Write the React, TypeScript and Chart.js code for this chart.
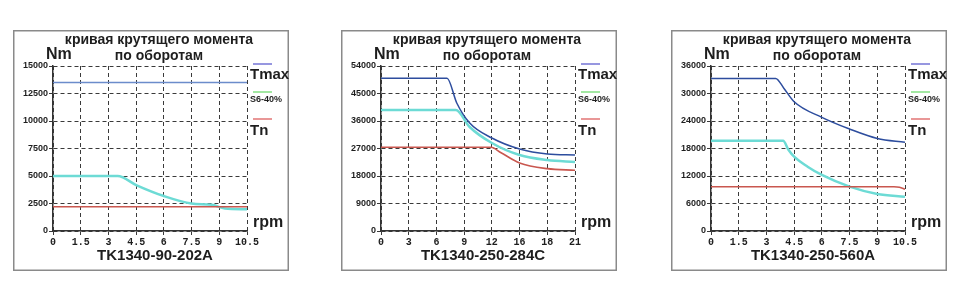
import React, { useEffect, useRef } from "react";
import { Chart, registerables } from "chart.js";

Chart.register(...registerables);

// ---------- shared text ----------
const TITLE_LINE_1 = "кривая крутящего момента";
const TITLE_LINE_2 = "по оборотам";
const Y_UNIT = "Nm";
const X_UNIT = "rpm";
const SERIES_NAMES = ["Tmax", "S6-40%", "Tn"];

// ---------- panel 1 : TK1340-90-202A ----------
const p1Model = "TK1340-90-202A";
const p1XTicks = [0, 1.5, 3, 4.5, 6, 7.5, 9, 10.5];
const p1XLabels = ["0", "1.5", "3", "4.5", "6", "7.5", "9", "10.5"];
const p1YTicks = [0, 2500, 5000, 7500, 10000, 12500, 15000];
const p1TmaxRpm = [0, 10.5];
const p1TmaxNm = [13500, 13500];
const p1S6Rpm = [0, 3.5, 4.5, 6, 7.5, 8.6, 9.3, 10.5];
const p1S6Nm = [5000, 5000, 4180, 3180, 2500, 2380, 2050, 1980];
const p1TnRpm = [0, 10.5];
const p1TnNm = [2200, 2200];

// ---------- panel 2 : TK1340-250-284C ----------
const p2Model = "TK1340-250-284C";
const p2XTicks = [0, 3, 6, 9, 12, 15, 18, 21];
const p2XLabels = ["0", "3", "6", "9", "12", "16", "18", "21"];
const p2YTicks = [0, 9000, 18000, 27000, 36000, 45000, 54000];
const p2TmaxRpm = [0, 7.15, 8.2, 9.6, 12, 15, 18, 21];
const p2TmaxNm = [50000, 50000, 41900, 35350, 30440, 26840, 25200, 24870];
const p2S6Rpm = [0, 8.1, 9.6, 12, 15, 18, 21];
const p2S6Nm = [39600, 39600, 34040, 28800, 24870, 23240, 22580];
const p2TnRpm = [0, 11.9, 13, 15, 18, 21];
const p2TnNm = [27400, 27400, 25600, 22250, 20400, 19900];

// ---------- panel 3 : TK1340-250-560A ----------
const p3Model = "TK1340-250-560A";
const p3XTicks = [0, 1.5, 3, 4.5, 6, 7.5, 9, 10.5];
const p3XLabels = ["0", "1.5", "3", "4.5", "6", "7.5", "9", "10.5"];
const p3YTicks = [0, 6000, 12000, 18000, 24000, 30000, 36000];
const p3TmaxRpm = [0, 3.5, 3.95, 4.5, 6, 7.5, 9, 10.5];
const p3TmaxNm = [33300, 33300, 31100, 28200, 24800, 22250, 20200, 19350];
const p3S6Rpm = [0, 3.9, 4.2, 4.5, 5.23, 6, 7.5, 9, 10.5];
const p3S6Nm = [19700, 19700, 17670, 16210, 14030, 12220, 9670, 8070, 7490];
const p3TnRpm = [0, 9.9, 10.2, 10.5];
const p3TnNm = [9670, 9670, 9550, 9090];

// ---------- styles ----------
const PANEL_W = 276;
const PANEL_H = 241;
const PLOT_LEFT = 40;
const PLOT_TOP = 36;
const PLOT_RIGHT = 234;
const PLOT_BOTTOM = 201;
const TEXT_COLOR = "#1e1e1e";
const GRID_COLOR = "#3a3a3a";
const S6_COLOR = "#6ddbd5";
const TN_COLOR = "#c9574f";
const LEGEND_COLORS = ["#7474d6", "#84e084", "#e27474"];
const FONT = "'Liberation Sans', Arial, sans-serif";

type Panel = {
  left: number;
  model: string;
  xTicks: number[];
  xLabels: string[];
  yTicks: number[];
  tmaxColor: string;
  series: { rpm: number[]; nm: number[] }[];
};

const panels: Panel[] = [
  {
    left: 13,
    model: p1Model,
    xTicks: p1XTicks,
    xLabels: p1XLabels,
    yTicks: p1YTicks,
    tmaxColor: "#6b8ccb",
    series: [
      { rpm: p1TmaxRpm, nm: p1TmaxNm },
      { rpm: p1S6Rpm, nm: p1S6Nm },
      { rpm: p1TnRpm, nm: p1TnNm },
    ],
  },
  {
    left: 341,
    model: p2Model,
    xTicks: p2XTicks,
    xLabels: p2XLabels,
    yTicks: p2YTicks,
    tmaxColor: "#2d4d9e",
    series: [
      { rpm: p2TmaxRpm, nm: p2TmaxNm },
      { rpm: p2S6Rpm, nm: p2S6Nm },
      { rpm: p2TnRpm, nm: p2TnNm },
    ],
  },
  {
    left: 671,
    model: p3Model,
    xTicks: p3XTicks,
    xLabels: p3XLabels,
    yTicks: p3YTicks,
    tmaxColor: "#2d4d9e",
    series: [
      { rpm: p3TmaxRpm, nm: p3TmaxNm },
      { rpm: p3S6Rpm, nm: p3S6Nm },
      { rpm: p3TnRpm, nm: p3TnNm },
    ],
  },
];

function makeTextPlugin(p: Panel) {
  return {
    id: "panelText",
    afterDraw(chart: any) {
      const ctx = chart.ctx as CanvasRenderingContext2D;
      const w = chart.width;
      const h = chart.height;
      ctx.save();
      // frame
      ctx.strokeStyle = "#8a8a8a";
      ctx.lineWidth = 1.5;
      ctx.strokeRect(0.75, 0.75, w - 1.5, h - 1.5);

      ctx.fillStyle = TEXT_COLOR;
      ctx.textBaseline = "middle";
      // title
      ctx.textAlign = "center";
      ctx.font = `bold 14px ${FONT}`;
      ctx.fillText(TITLE_LINE_1, 146, 10);
      ctx.fillText(TITLE_LINE_2, 146, 26);
      // unit labels
      ctx.textAlign = "left";
      ctx.font = `bold 16px ${FONT}`;
      ctx.fillText(Y_UNIT, 33, 25);
      ctx.font = `bold 16px ${FONT}`;
      ctx.fillText(X_UNIT, 240, 193);

      // legend
      const markY = [34, 62, 89];
      const textY = [45, 70, 101];
      SERIES_NAMES.forEach((name, i) => {
        ctx.strokeStyle = LEGEND_COLORS[i];
        ctx.lineWidth = 1.5;
        ctx.beginPath();
        ctx.moveTo(240, markY[i]);
        ctx.lineTo(259, markY[i]);
        ctx.stroke();
        ctx.fillStyle = TEXT_COLOR;
        ctx.font = i === 1 ? `bold 9px ${FONT}` : `bold 15px ${FONT}`;
        ctx.fillText(name, 237, textY[i]);
      });

      // model
      ctx.textAlign = "center";
      ctx.font = `bold 15px ${FONT}`;
      ctx.fillText(p.model, 142, 226);
      ctx.restore();
    },
  };
}

function PanelChart({ p }: { p: Panel }) {
  const ref = useRef<HTMLCanvasElement>(null);
  useEffect(() => {
    if (!ref.current) return;
    const colors = [p.tmaxColor, S6_COLOR, TN_COLOR];
    const widths = [1.5, 2.5, 1.6];
    const xMax = p.xTicks[p.xTicks.length - 1];
    const yMax = p.yTicks[p.yTicks.length - 1];
    const chart = new Chart(ref.current, {
      type: "line",
      data: {
        datasets: p.series.map((s, i) => ({
          label: SERIES_NAMES[i],
          data: s.rpm.map((x, k) => ({ x, y: s.nm[k] })),
          borderColor: colors[i],
          borderWidth: widths[i],
          pointRadius: 0,
          fill: false,
          cubicInterpolationMode: "monotone" as const,
          order: i === 2 ? 0 : i + 1,
        })),
      },
      options: {
        responsive: false,
        animation: false,
        events: [],
        layout: { padding: { top: PLOT_TOP, right: PANEL_W - PLOT_RIGHT, left: 0, bottom: 0 } },
        plugins: {
          legend: { display: false },
          tooltip: { enabled: false },
          title: { display: false },
        },
        scales: {
          x: {
            type: "linear",
            min: 0,
            max: xMax,
            afterBuildTicks: (s: any) => {
              s.ticks = p.xTicks.map((v) => ({ value: v }));
            },
            afterFit: (s: any) => {
              s.height = PANEL_H - PLOT_BOTTOM;
            },
            ticks: {
              autoSkip: false,
              maxRotation: 0,
              padding: 1,
              color: TEXT_COLOR,
              font: { family: "'Liberation Mono', monospace", size: 10, weight: "bold" },
              callback: (_v: any, i: number) => p.xLabels[i],
            },
            grid: {
              color: GRID_COLOR,
              lineWidth: 1,
              tickLength: 4,
              tickColor: GRID_COLOR,
              tickBorderDash: [],
            },
            border: { display: true, color: "#333", width: 1.5, dash: [4, 3] },
          },
          y: {
            type: "linear",
            min: 0,
            max: yMax,
            afterBuildTicks: (s: any) => {
              s.ticks = p.yTicks.map((v) => ({ value: v }));
            },
            afterFit: (s: any) => {
              s.width = PLOT_LEFT;
            },
            ticks: {
              autoSkip: false,
              padding: 1,
              color: TEXT_COLOR,
              font: { family: FONT, size: 9, weight: "bold" },
              callback: (v: any) => String(v),
            },
            grid: {
              color: GRID_COLOR,
              lineWidth: 1,
              tickLength: 4,
              tickColor: GRID_COLOR,
              tickBorderDash: [],
            },
            border: { display: true, color: "#333", width: 1.5, dash: [4, 3] },
          },
        },
      } as any,
      plugins: [makeTextPlugin(p)],
    });
    return () => chart.destroy();
  }, [p]);
  return (
    <canvas
      ref={ref}
      width={PANEL_W}
      height={PANEL_H}
      style={{ position: "absolute", left: p.left, top: 30, width: PANEL_W, height: PANEL_H, background: "#fff" }}
    />
  );
}

export default function App() {
  return (
    <div style={{ position: "absolute", left: 0, top: 0, width: 970, height: 303, background: "#fff" }}>
      {panels.map((p) => (
        <PanelChart key={p.model} p={p} />
      ))}
    </div>
  );
}
